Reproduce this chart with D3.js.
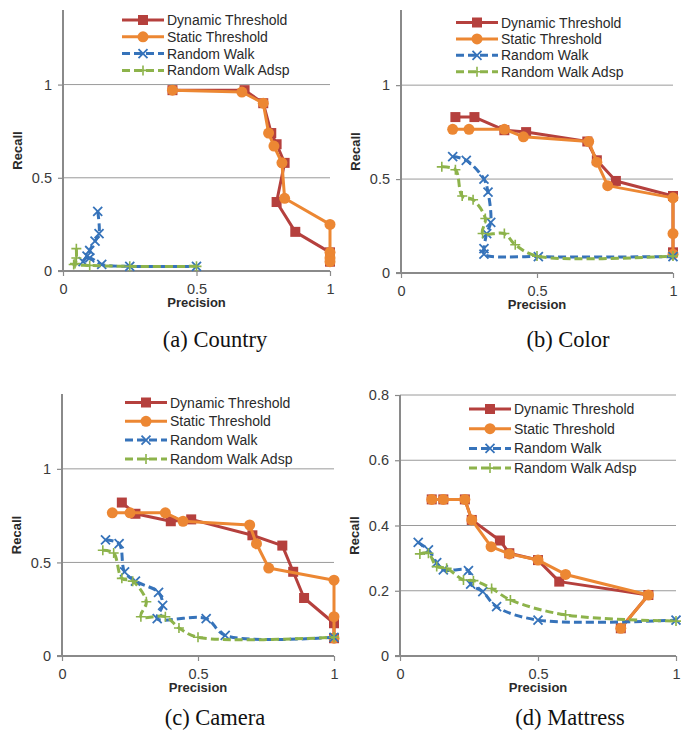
<!DOCTYPE html>
<html><head><meta charset="utf-8">
<script src="https://cdn.jsdelivr.net/npm/d3@7"></script>
<style>body{margin:0;background:#fff}svg{display:block}</style>
</head><body>
<svg id="c" width="681" height="733"></svg>
<script>
// ---- data: [precision, recall] ----
const seriesNames = ["Dynamic Threshold", "Static Threshold", "Random Walk", "Random Walk Adsp"];
const captions = ["(a) Country", "(b) Color", "(c) Camera", "(d) Mattress"];
const yTicksA = [0, 0.5, 1];
const yTicksD = [0, 0.2, 0.4, 0.6, 0.8];
const xTicks = [0, 0.5, 1];

const countryDynamic = [[0.41,0.97],[0.68,0.97],[0.75,0.90],[0.78,0.74],[0.80,0.68],[0.83,0.58],[0.80,0.37],[0.87,0.21],[1.0,0.10],[1.0,0.05]];
const countryStatic  = [[0.41,0.97],[0.67,0.96],[0.75,0.90],[0.77,0.74],[0.79,0.67],[0.82,0.58],[0.83,0.39],[1.0,0.25],[1.0,0.10],[1.0,0.07],[1.0,0.05]];
const countryRW      = [[0.13,0.32],[0.135,0.20],[0.12,0.16],[0.10,0.11],[0.09,0.08],[0.075,0.05],[0.10,0.07],[0.145,0.035],[0.25,0.025],[0.50,0.025]];
const countryRWA     = [[0.05,0.12],[0.05,0.07],[0.045,0.04],[0.04,0.035],[0.10,0.03],[0.25,0.025],[0.50,0.025]];

const colorDynamic = [[0.20,0.83],[0.27,0.83],[0.38,0.76],[0.46,0.75],[0.685,0.70],[0.72,0.60],[0.79,0.49],[1.0,0.41],[1.0,0.11]];
const colorStatic  = [[0.19,0.765],[0.25,0.765],[0.38,0.765],[0.45,0.725],[0.69,0.70],[0.72,0.59],[0.76,0.465],[1.0,0.40],[1.0,0.21],[1.0,0.10]];
const colorRW      = [[0.19,0.62],[0.24,0.60],[0.305,0.50],[0.32,0.43],[0.33,0.27],[0.315,0.21],[0.305,0.13],[0.305,0.10],[0.505,0.087],[1.0,0.087]];
const colorRWA     = [[0.15,0.565],[0.20,0.55],[0.225,0.41],[0.265,0.39],[0.31,0.29],[0.30,0.21],[0.38,0.21],[0.42,0.15],[0.50,0.09],[1.0,0.09]];

const cameraDynamic = [[0.22,0.82],[0.27,0.76],[0.40,0.72],[0.475,0.73],[0.70,0.645],[0.81,0.59],[0.85,0.45],[0.89,0.31],[1.0,0.175],[1.0,0.095]];
const cameraStatic  = [[0.185,0.765],[0.25,0.765],[0.38,0.765],[0.445,0.72],[0.69,0.70],[0.715,0.60],[0.76,0.47],[1.0,0.405],[1.0,0.21],[1.0,0.095]];
const cameraRW      = [[0.16,0.62],[0.21,0.60],[0.23,0.45],[0.27,0.40],[0.355,0.34],[0.37,0.27],[0.35,0.20],[0.53,0.20],[0.60,0.11],[1.0,0.10]];
const cameraRWA     = [[0.15,0.565],[0.19,0.55],[0.22,0.415],[0.26,0.40],[0.31,0.29],[0.29,0.21],[0.38,0.21],[0.43,0.15],[0.50,0.10],[1.0,0.10]];

const mattressDynamic = [[0.115,0.48],[0.157,0.48],[0.235,0.48],[0.26,0.417],[0.362,0.354],[0.396,0.315],[0.50,0.294],[0.577,0.228],[0.90,0.187],[0.80,0.085]];
const mattressStatic  = [[0.115,0.48],[0.157,0.48],[0.235,0.48],[0.26,0.417],[0.33,0.335],[0.396,0.313],[0.50,0.294],[0.60,0.25],[0.90,0.187],[0.80,0.085]];
const mattressRW      = [[0.066,0.348],[0.103,0.325],[0.133,0.286],[0.157,0.264],[0.248,0.262],[0.256,0.22],[0.30,0.197],[0.35,0.151],[0.50,0.11],[1.0,0.11]];
const mattressRWA     = [[0.072,0.313],[0.103,0.315],[0.133,0.274],[0.169,0.269],[0.23,0.233],[0.266,0.231],[0.332,0.207],[0.40,0.172],[0.60,0.126],[1.0,0.107]];

const panelData = [
  [countryDynamic, countryStatic, countryRW, countryRWA],
  [colorDynamic, colorStatic, colorRW, colorRWA],
  [cameraDynamic, cameraStatic, cameraRW, cameraRWA],
  [mattressDynamic, mattressStatic, mattressRW, mattressRWA]
];

// ---- layout / style ----
const colors = ["#B5403D", "#EC8733", "#3673BA", "#8DB34B"];
const panels = [
  {x0:63, x1:330, y0:271, yTop:10, ymax:1.4, yt:yTicksA, leg:{x:122, y:20, dy:16.8}, cap:{x:215, y:340}},
  {x0:401, x1:673, y0:273, yTop:10, ymax:1.4, yt:yTicksA, leg:{x:456, y:22.5, dy:16.4}, cap:{x:568, y:340}},
  {x0:62, x1:334, y0:656, yTop:394, ymax:1.4, yt:yTicksA, leg:{x:125, y:402.5, dy:18.8}, cap:{x:215, y:718}},
  {x0:400, x1:676, y0:656, yTop:395, ymax:0.8, yt:yTicksD, leg:{x:469, y:409, dy:19.7}, cap:{x:570, y:718}}
];

const svg = d3.select("#c");
const sans = "'Liberation Sans', Arial, sans-serif";

function drawMarker(g, type, x, y, col) {
  if (type === 0) {
    g.append("rect").attr("x", x-5).attr("y", y-5).attr("width", 10).attr("height", 10).attr("fill", col);
  } else if (type === 1) {
    g.append("circle").attr("cx", x).attr("cy", y).attr("r", 5.5).attr("fill", col);
  } else if (type === 2) {
    g.append("path").attr("d", `M${x-4.5},${y-4.5}L${x+4.5},${y+4.5}M${x-4.5},${y+4.5}L${x+4.5},${y-4.5}`)
      .attr("stroke", col).attr("stroke-width", 1.8).attr("fill", "none");
  } else {
    g.append("path").attr("d", `M${x-5},${y}L${x+5},${y}M${x},${y-5}L${x},${y+5}`)
      .attr("stroke", col).attr("stroke-width", 1.6).attr("fill", "none");
  }
}

panels.forEach((p, i) => {
  const xs = d3.scaleLinear().domain([0, 1]).range([p.x0, p.x1]);
  const ys = d3.scaleLinear().domain([0, p.ymax]).range([p.y0, p.yTop]);
  const g = svg.append("g");

  // gridlines
  g.selectAll("line.grid").data(p.yt.filter(t => t > 0)).enter().append("line")
    .attr("x1", p.x0).attr("x2", p.x1).attr("y1", d => ys(d)).attr("y2", d => ys(d))
    .attr("stroke", "#9a9a9a").attr("stroke-width", 1);

  // axes
  const yAxis = d3.axisLeft(ys).tickValues(p.yt).tickSize(5).tickPadding(6)
    .tickFormat(d => d3.format("")(+d.toFixed(2)));
  const ya = g.append("g").attr("transform", `translate(${p.x0},0)`).call(yAxis);
  ya.select(".domain").remove();
  ya.append("line").attr("x1", 0).attr("x2", 0).attr("y1", p.yTop).attr("y2", p.y0).attr("stroke", "#8a8a8a").attr("stroke-width", 2);
  ya.selectAll(".tick line").attr("stroke", "#8a8a8a").attr("stroke-width", 1.2);
  ya.selectAll(".tick text").attr("font-family", sans).attr("font-size", 14.5).attr("fill", "#3a3a3a");

  const xAxis = d3.axisBottom(xs).tickValues(xTicks).tickSize(5).tickPadding(8)
    .tickFormat(d => d3.format("")(d));
  const xa = g.append("g").attr("transform", `translate(0,${p.y0})`).call(xAxis);
  xa.select(".domain").remove();
  xa.append("line").attr("x1", p.x0 - 5).attr("x2", p.x1).attr("y1", 0).attr("y2", 0).attr("stroke", "#8a8a8a").attr("stroke-width", 2);
  xa.selectAll(".tick line").attr("stroke", "#8a8a8a").attr("stroke-width", 1.2);
  xa.selectAll(".tick text").attr("font-family", sans).attr("font-size", 14.5).attr("fill", "#3a3a3a");

  // axis titles
  g.append("text").attr("x", (p.x0 + p.x1) / 2).attr("y", p.y0 + 36)
    .attr("text-anchor", "middle").attr("font-family", sans).attr("font-size", 13)
    .attr("font-weight", "bold").attr("fill", "#2a2a2a").text("Precision");
  const ly = (p.y0 + p.yTop) / 2 + 10;
  g.append("text").attr("transform", `translate(${p.x0 - 41},${ly}) rotate(-90)`)
    .attr("text-anchor", "middle").attr("font-family", sans).attr("font-size", 13)
    .attr("font-weight", "bold").attr("fill", "#2a2a2a").text("Recall");

  // series
  panelData[i].forEach((data, s) => {
    const line = d3.line().x(d => xs(d[0])).y(d => ys(d[1]))
      .curve(s >= 2 ? d3.curveCatmullRom.alpha(0.5) : d3.curveLinear);
    g.append("path").datum(data).attr("d", line).attr("fill", "none")
      .attr("stroke", colors[s]).attr("stroke-width", 3)
      .attr("stroke-linejoin", "round")
      .attr("stroke-dasharray", s >= 2 ? "8,4" : null);
    const mg = g.append("g");
    data.forEach(d => drawMarker(mg, s, xs(d[0]), ys(d[1]), colors[s]));
  });

  // legend
  seriesNames.forEach((name, s) => {
    const yy = p.leg.y + s * p.leg.dy;
    const lx = p.leg.x;
    g.append("line").attr("x1", lx).attr("x2", lx + 42).attr("y1", yy).attr("y2", yy)
      .attr("stroke", colors[s]).attr("stroke-width", 3)
      .attr("stroke-dasharray", s >= 2 ? "8,4" : null);
    drawMarker(g, s, lx + 21, yy, colors[s]);
    g.append("text").attr("x", lx + 45).attr("y", yy + 5).attr("font-family", sans)
      .attr("font-size", 14).attr("fill", "#2a2a2a").text(name);
  });

  // caption
  svg.append("text").attr("x", p.cap.x).attr("y", p.cap.y + 7).attr("text-anchor", "middle")
    .attr("font-family", "'Liberation Serif', 'Times New Roman', serif").attr("font-size", 22.5)
    .attr("fill", "#111").text(captions[i]);
});
</script>
</body></html>
